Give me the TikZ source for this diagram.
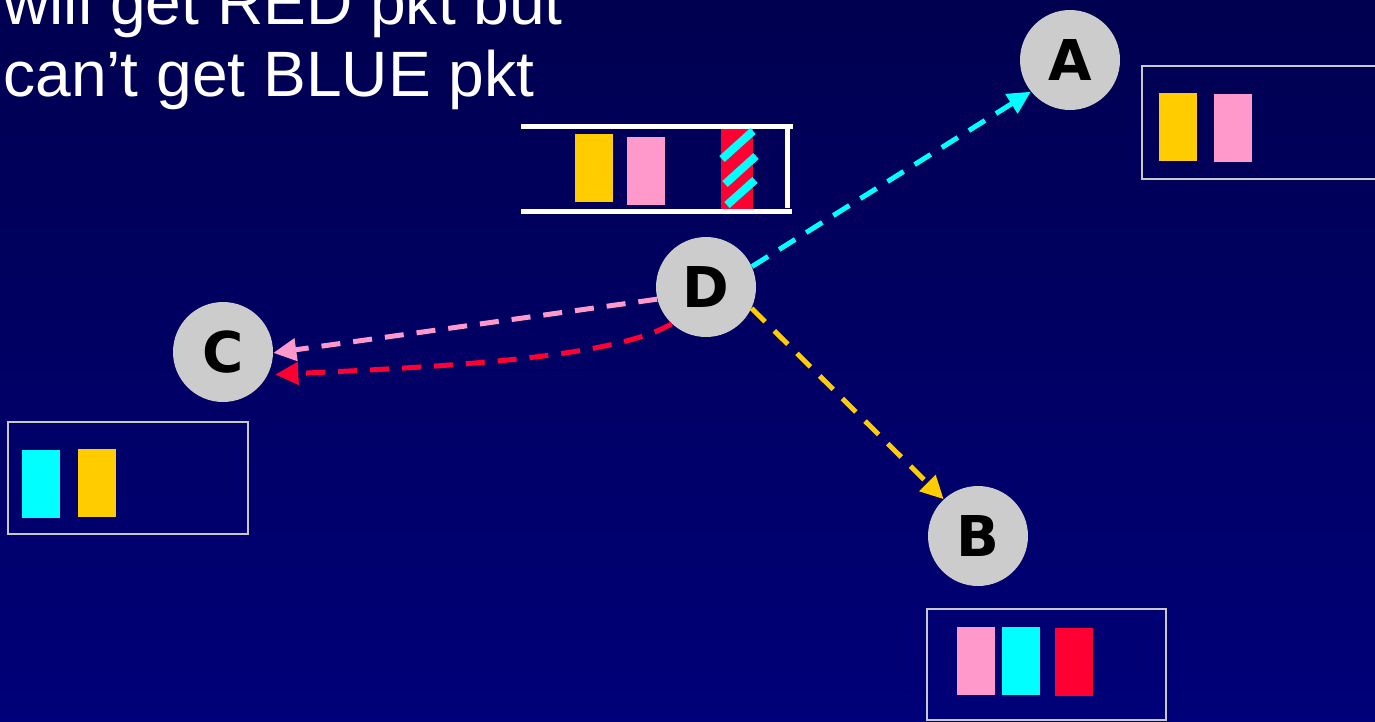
\documentclass[tikz,border=0pt]{standalone}
\usepackage{fontspec}
\setmainfont{Liberation Sans}
\newfontfamily\letterfont{DejaVu Sans}
\usetikzlibrary{arrows.meta}

\definecolor{navytop}{RGB}{0,0,80}
\definecolor{navybot}{RGB}{0,0,120}
\definecolor{pktyellow}{RGB}{255,204,0}
\definecolor{pktpink}{RGB}{255,153,204}
\definecolor{pktred}{RGB}{255,0,51}
\definecolor{pktcyan}{RGB}{0,255,255}
\definecolor{nodegray}{RGB}{204,204,204}
\definecolor{boxgray}{RGB}{200,200,200}

\tikzset{
  station/.style={circle, fill=nodegray, minimum size=2cm, inner sep=0pt,
    font=\letterfont\bfseries\fontsize{32}{32}\selectfont},
  flow/.style={line width=1mm, dash pattern=on 3.8mm off 2.6mm,
    -{Triangle[length=4.6mm,width=4.4mm]}},
  buffer/.style={draw=boxgray, line width=1.5pt},
  queueline/.style={draw=white, line width=1mm},
}

\begin{document}
\begin{tikzpicture}[x=0.02cm, y=-0.02cm]
    % background
    \shade[top color=navytop, bottom color=navybot] (0,0) rectangle (1375,721);
    \useasboundingbox (0,0) rectangle (1375,721);
    \clip (0,0) rectangle (1375,721);

    \node[anchor=base west, inner sep=0pt, text=white, font=\fontsize{36.5}{43}\selectfont]
        (line1) at (3,24) {will get RED pkt but};
    \node[anchor=base west, inner sep=0pt, text=white, font=\fontsize{36.5}{43}\selectfont]
        (line2) at (3,96) {can’t get BLUE pkt};

    % queue at D
    \draw[queueline] (521,126) -- (793,126);
    \draw[queueline] (521,211) -- (792,211);
    \draw[queueline] (787,128) -- (787,208);
    \fill[pktyellow] (575,134) rectangle (613,202);
    \fill[pktpink] (627,137) rectangle (665,205);
    \fill[pktred] (721,129) rectangle (753,209);
    \draw[pktcyan, line width=1.6mm] (722,159) -- (753,131);
    \draw[pktcyan, line width=1.6mm] (725,184) -- (756,156);
    \draw[pktcyan, line width=1.6mm] (727,205) -- (755,180);

    % stations
    \node[station] (D) at (706,287) {D};
    \node[station] (A) at (1070,60) {A};
    \node[station] (C) at (223,352) {C};
    \node[station] (B) at (978,536) {B};

    % what each station received
    \draw[buffer] (1142,66) rectangle (1400,179);
    \fill[pktyellow] (1159,93) rectangle (1197,161);
    \fill[pktpink] (1214,94) rectangle (1252,162);

    \draw[buffer] (8,422) rectangle (248,534);
    \fill[pktcyan] (22,450) rectangle (60,518);
    \fill[pktyellow] (78,449) rectangle (116,517);

    \draw[buffer] (927,609) rectangle (1166,720);
    \fill[pktpink] (957,627) rectangle (995,695);
    \fill[pktcyan] (1002,627) rectangle (1040,695);
    \fill[pktred] (1055,628) rectangle (1093,696);

    % transmissions
    \draw[flow, pktcyan] (D.24) -- (A.219);
    \draw[flow, pktyellow] (D.-25) -- (B.133);
    \draw[flow, pktpink] (D.194) -- (C.-1);
    \draw[flow, pktred, shorten >=0.15cm] (D.227) .. controls +(-60,35) and +(170,-8) .. (C.-27);
\end{tikzpicture}
\end{document}
